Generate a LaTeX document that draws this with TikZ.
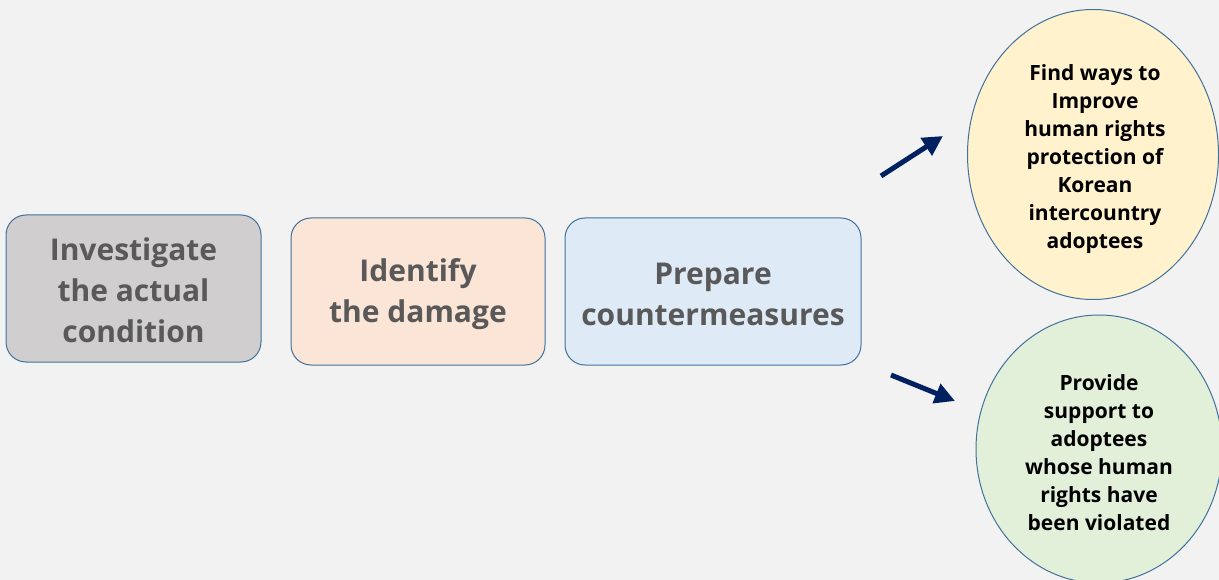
\documentclass[tikz,border=0pt]{standalone}
\usepackage{fontspec}
\setmainfont{Open Sans}
\usetikzlibrary{arrows.meta,shapes.geometric}
\definecolor{bg}{HTML}{F2F2F2}
\definecolor{edge}{HTML}{41719C}
\definecolor{gfill}{HTML}{D0CECE}
\definecolor{ofill}{HTML}{FBE5D6}
\definecolor{bfill}{HTML}{DEEBF7}
\definecolor{yfill}{HTML}{FFF2CC}
\definecolor{vfill}{HTML}{E2F0D9}
\definecolor{btext}{HTML}{595959}
\definecolor{navy}{HTML}{002060}
\tikzset{
  stepbox/.style={draw=edge, line width=1pt, rounded corners=20pt, inner sep=0pt},
  steptext/.style={inner sep=0pt, text=btext, align=center, font=\fontsize{30}{41}\selectfont\bfseries},
  goal/.style={ellipse, draw=edge, line width=1pt, inner sep=0pt},
  goaltext/.style={inner sep=0pt, text=black, align=center, font=\fontsize{21}{28}\selectfont\bfseries},
  flow/.style={draw=navy, line width=5pt, -{Triangle[length=20pt,width=20pt]}}
}
\begin{document}
\begin{tikzpicture}[x=1pt,y=-1pt]
\useasboundingbox (0,0) rectangle (1219,580);
\fill[bg] (0,0) rectangle (1219,580);
\node[stepbox, fill=gfill, minimum width=255pt, minimum height=147pt] (s1) at (133.5,288.5) {};
\node[stepbox, fill=ofill, minimum width=254pt, minimum height=147pt] (s2) at (418,291.5) {};
\node[stepbox, fill=bfill, minimum width=296pt, minimum height=147pt] (s3) at (713,291.5) {};
\node[goal, fill=yfill, minimum width=251pt, minimum height=290pt] (g1) at (1093,154.5) {};
\node[goal, fill=vfill, minimum width=246pt, minimum height=268pt] (g2) at (1099,449) {};
\node[steptext] (s1t) at ([yshift=-2pt]s1.center) {Investigate\\the actual\\condition};
\node[steptext] (s2t) at ([yshift=-3pt]s2.center) {Identify\\the damage};
\node[steptext] (s3t) at ([yshift=-3pt]s3.center) {Prepare\\countermeasures};
\node[goaltext] (g1t) at ([xshift=2pt,yshift=-5pt]g1.center) {Find ways to\\Improve\\human rights\\protection of\\Korean\\intercountry\\adoptees};
\node[goaltext] (g2t) at ([yshift=-4pt]g2.center) {Provide\\support to\\adoptees\\whose human\\rights have\\been violated};
\coordinate (a1s) at (881,176);
\coordinate (a1e) at (943,136);
\coordinate (a2s) at (891,375);
\coordinate (a2e) at (955,401);
\draw[flow] (a1s) -- (a1e);
\draw[flow] (a2s) -- (a2e);
\end{tikzpicture}
\end{document}
